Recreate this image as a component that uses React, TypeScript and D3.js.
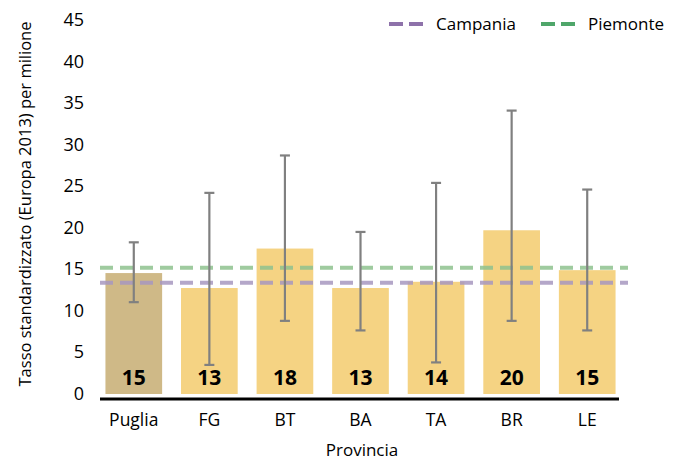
import React from "react";
import * as d3 from "d3";

const categories = ["Puglia", "FG", "BT", "BA", "TA", "BR", "LE"];
const values = [14.55, 12.75, 17.5, 12.75, 13.5, 19.7, 14.9];
const labels = ["15", "13", "18", "13", "14", "20", "15"];
const lower = [11.05, 3.5, 8.8, 7.65, 3.8, 8.8, 7.65];
const upper = [18.25, 24.2, 28.7, 19.5, 25.4, 34.1, 24.6];
const refNames = ["Campania", "Piemonte"];
const refValues = [13.4, 15.2];
const yTicks = [0, 5, 10, 15, 20, 25, 30, 35, 40, 45];

const W = 680;
const H = 461;
const FONT = "'Open Sans', 'Noto Sans', sans-serif";

export default function App() {
  const x = d3.scaleBand<string>().domain(categories).range([96, 625]).paddingInner(0.25).paddingOuter(0.125);
  const y = d3.scaleLinear().domain([0, 45]).range([394, 20]);
  const refColors = ["#a898c0", "#8fc28f"];
  const legendColors = ["#8e72aa", "#4fa66a"];
  const legendX = [387, 539];
  return (
    <svg width={W} height={H} style={{ position: "absolute", left: 0, top: 0, background: "#fff" }} fontFamily={FONT}>
      <text transform={`translate(31,204) rotate(-90)`} textAnchor="middle" fontSize={16.5} fill="#000">
        Tasso standardizzato (Europa 2013) per milione
      </text>
      {yTicks.map((t) => (
        <text key={t} x={84} y={y(t) - 1} textAnchor="end" dominantBaseline="central" fontSize={18} fill="#000">
          {t}
        </text>
      ))}
      {categories.map((c, i) => (
        <rect key={c} x={x(c)} y={y(values[i])} width={x.bandwidth()} height={y(0) - y(values[i])} fill={i === 0 ? "#cfb987" : "#f5d383"} />
      ))}
      {refValues.map((v, i) => (
        <line key={i} x1={100} x2={628} y1={y(v)} y2={y(v)} stroke={refColors[i]} strokeWidth={4} strokeDasharray="13 7" opacity={0.85} />
      ))}
      {categories.map((c, i) => {
        const cx = (x(c) as number) + x.bandwidth() / 2;
        return (
          <g key={c} stroke="#808080" strokeWidth={2.2}>
            <line x1={cx} x2={cx} y1={y(upper[i])} y2={y(lower[i])} />
            <line x1={cx - 5} x2={cx + 5} y1={y(upper[i])} y2={y(upper[i])} />
            <line x1={cx - 5} x2={cx + 5} y1={y(lower[i])} y2={y(lower[i])} />
          </g>
        );
      })}
      {categories.map((c, i) => (
        <text key={c} x={(x(c) as number) + x.bandwidth() / 2} y={384.5} textAnchor="middle" fontSize={21} fontWeight="bold" fill="#000">
          {labels[i]}
        </text>
      ))}
      <line x1={100} x2={619} y1={399} y2={399} stroke="#000" strokeWidth={3} />
      {categories.map((c) => (
        <text key={c} x={(x(c) as number) + x.bandwidth() / 2} y={426} textAnchor="middle" fontSize={17.5} fill="#000">
          {c}
        </text>
      ))}
      <text x={362} y={456} textAnchor="middle" fontSize={17} fill="#000">
        Provincia
      </text>
      {refNames.map((n, i) => (
        <g key={n}>
          <line x1={legendX[i] + 2} x2={legendX[i] + 36} y1={24} y2={24} stroke={legendColors[i]} strokeWidth={4} strokeDasharray="14 6" />
          <text x={legendX[i] + 49} y={30} fontSize={17} fill="#000">
            {n}
          </text>
        </g>
      ))}
    </svg>
  );
}
